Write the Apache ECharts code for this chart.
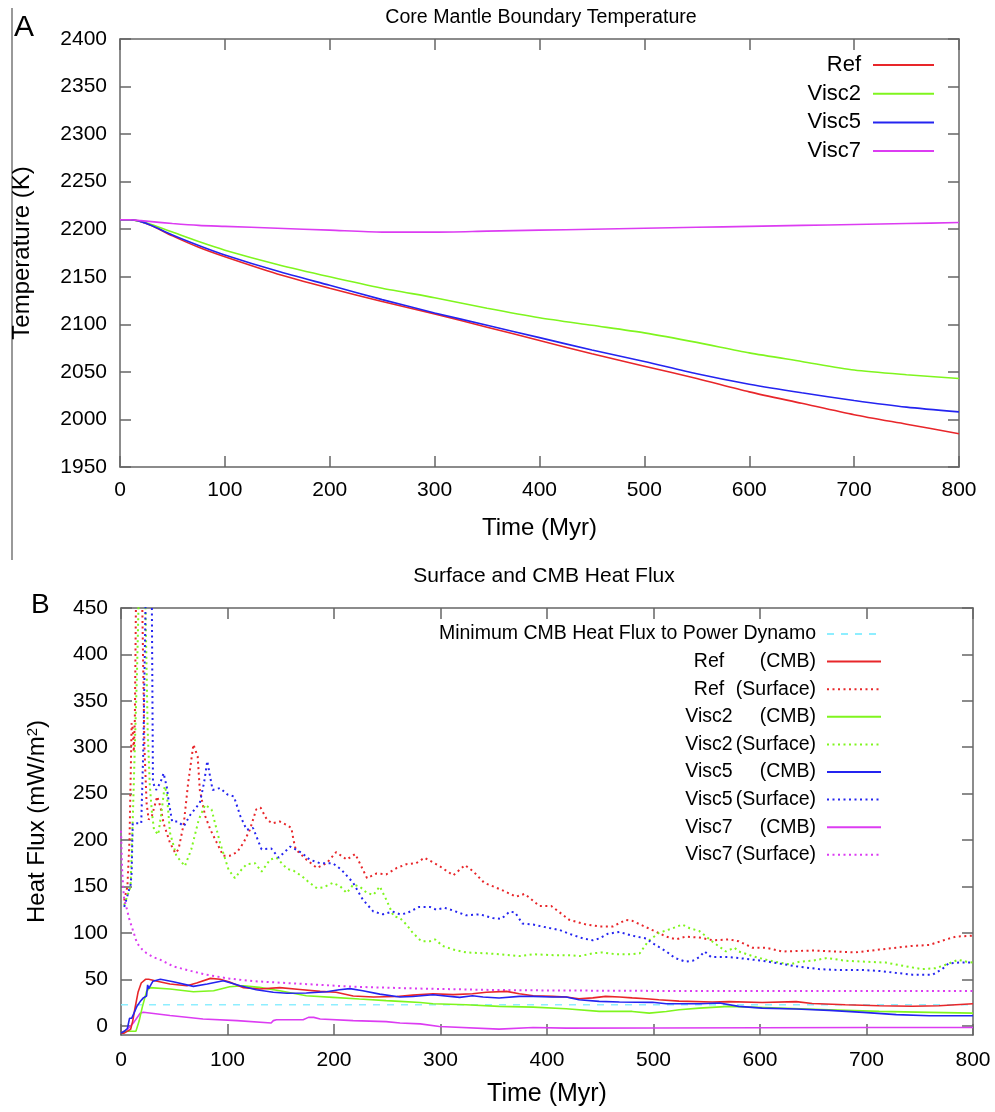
<!DOCTYPE html>
<html>
<head>
<meta charset="utf-8">
<script src="https://cdn.jsdelivr.net/npm/echarts@6/dist/echarts.min.js"></script>
<style>
html,body{margin:0;padding:0;background:#fff;}
#chart{width:995px;height:1112px;}
</style>
</head>
<body>
<div id="chart"></div>
<script>
// ---------- Panel A: Core Mantle Boundary Temperature ----------
const timeTop = [0, 10, 20, 30, 50, 75, 100, 150, 200, 250, 300, 350, 400, 450, 500, 550, 600, 650, 700, 750, 800];
const refTemp   = [2210, 2210, 2208, 2204, 2193, 2181, 2171, 2153, 2138, 2124, 2111, 2097, 2083, 2069, 2056, 2043, 2029, 2017, 2005, 1995, 1985];
const visc2Temp = [2210, 2210, 2208, 2205, 2197, 2187, 2178, 2163, 2150, 2138, 2128, 2117, 2107, 2099, 2091, 2081, 2070, 2061, 2052, 2047, 2043];
const visc5Temp = [2210, 2210, 2208, 2204, 2194, 2183, 2173, 2156, 2141, 2126, 2112, 2099, 2086, 2073, 2061, 2048, 2037, 2028, 2020, 2013, 2008];
const visc7Temp = [2210, 2210, 2209, 2208, 2206, 2204, 2203, 2201, 2199, 2197, 2197, 2198, 2199, 2200, 2201, 2202, 2203, 2204, 2205, 2206, 2207];
const topNames = ['Ref', 'Visc2', 'Visc5', 'Visc7'];
const xTicks = [0, 100, 200, 300, 400, 500, 600, 700, 800];
const tempTicks = [1950, 2000, 2050, 2100, 2150, 2200, 2250, 2300, 2350, 2400];

// ---------- Panel B: Surface and CMB Heat Flux ([time, flux]) ----------
const dynamoName = 'Minimum CMB Heat Flux to Power Dynamo';
const dynamoMin = [[0, 22.5], [800, 22.5]];

const refCMB = [[0,-8],[3,-8],[9,-4],[11,5],[13,18],[16,36],[19,46],[23,50],[26,50],[34,48],[46,45],[62,43],[71,46],[84,51],[93,50],[102,47],[115,41],[130,39.5],[149,41],[168,39],[187,37],[202,36],[218,32],[237,31],[259,31.5],[274,33],[293,34.5],[312,33.5],[330,34.5],[343,36],[362,37],[374,34.5],[387,32.3],[405,31.6],[418,31],[430,29],[443,30],[455,31.6],[468,31],[480,30],[493,29],[505,28],[524,26.5],[555,25.5],[571,26],[602,25],[634,26],[649,24],[680,22.6],[712,21.5],[743,21],[768,21.5],[800,23.6]];
const refSurface = [[3,135],[6,150],[8,200],[10,326],[11,320],[12,295],[13,330],[14,450],[16,650],[18,650],[20,450],[22,300],[24,240],[26,222],[29,226],[34,247],[37,236],[40,218],[46,197],[51,186],[54,190],[59,218],[63,261],[68,303],[72,290],[74,254],[79,226],[84,211],[90,197],[96,183],[102,183],[109,187],[115,197],[121,211],[127,233],[131,235],[137,222],[142,218],[149,220],[156,216],[160,213],[162,200],[164,190],[174,179],[184,170],[193,175],[202,187],[212,179],[220,185],[231,159],[240,164],[249,163],[259,170],[268,174],[277,175],[285,181],[299,172],[312,162],[323,173],[331,166],[341,154],[356,147],[371,139],[379,142],[393,129],[404,129],[421,114],[437,109],[449,107],[462,107],[474,114],[480,113],[499,103],[512,96],[521,93],[530,96],[543,95],[556,92],[571,93],[580,91],[593,84],[606,84],[621,80],[649,81],[671,80],[690,79],[712,82],[743,86],[759,87],[775,93],[784,96],[800,97]];
const visc2CMB = [[0,-8],[4,-6],[14,-6],[17,5],[20,20],[24,37],[27,41],[46,39.5],[68,36.6],[87,37.7],[102,42],[115,43],[130,41.3],[149,37.7],[174,32.3],[199,30.5],[224,28.7],[249,27],[262,26.2],[281,25],[293,23.7],[324,22.6],[355,20.8],[387,20],[418,18.3],[449,15.4],[480,15.4],[496,13.6],[512,15.4],[524,17.2],[543,19],[571,20.8],[618,19],[665,17.2],[712,15.4],[759,14.4],[800,13.6]];
const visc2Surface = [[3,130],[6,140],[9,150],[11,220],[13,301],[15,380],[17,480],[19,650],[21,650],[23,450],[25,320],[27,260],[29,230],[31,211],[35,206],[38,230],[41,258],[43,250],[46,208],[52,183],[60,172],[66,190],[73,222],[79,238],[85,233],[93,197],[101,168],[107,159],[113,168],[118,174],[126,175],[132,166],[140,179],[146,181],[156,169],[162,167],[170,161],[176,155],[184,148],[190,149],[199,154],[206,150],[212,143],[218,152],[224,150],[231,143],[237,141],[243,150],[249,136],[256,118],[262,116],[268,109],[274,100],[282,91],[290,91],[295,93],[302,86],[312,82],[324,79],[343,78],[356,77],[374,75],[387,77],[406,76],[422,76],[431,75],[443,78],[452,79],[465,77],[480,77],[487,78],[495,91],[505,100],[518,105],[527,109],[534,105],[543,102],[556,90],[568,80],[576,84],[580,80],[593,75],[606,71],[618,68],[628,66],[637,69],[649,70],[663,73],[680,70],[699,69],[718,68],[737,64],[752,61],[765,62],[775,66],[786,71],[794,69],[800,68]];
const visc5CMB = [[0,-8],[3,-6],[6,-3],[8,8],[10,8],[12,13],[15,21],[18,26],[21,30],[24,32],[25,44],[26,40],[28,44],[30,48],[37,50],[49,47.4],[68,42.4],[81,45],[96,48.5],[112,43],[127,38.8],[143,36],[156,35],[174,35.2],[193,36.6],[205,38.8],[215,40],[227,37.7],[243,34],[262,31],[274,31.5],[293,33.4],[318,30.5],[330,32.3],[340,31],[355,29.8],[374,31.6],[387,31.6],[405,31],[418,31],[430,28],[449,26.2],[468,25.5],[499,25.2],[512,23.7],[543,23.7],[562,24.4],[580,20.8],[602,19],[634,18],[665,16.5],[697,14.4],[728,11.9],[759,10.8],[800,10.8]];
const visc5Surface = [[3,128],[6,140],[9,152],[10,165],[11,218],[19,218],[21,300],[23,450],[25,650],[27,650],[29,450],[30,262],[33,254],[37,262],[40,272],[43,257],[45,240],[48,220],[53,220],[59,215],[65,227],[74,240],[78,262],[81,285],[86,254],[93,256],[100,249],[106,247],[112,226],[118,211],[124,213],[132,190],[141,191],[148,181],[159,193],[170,186],[177,179],[187,175],[199,175],[207,168],[218,154],[227,136],[237,123],[246,120],[255,123],[262,120],[268,121],[280,128],[290,128],[296,125],[304,127],[312,124],[324,119],[337,120],[349,116],[357,115],[365,123],[370,122],[377,110],[387,109],[399,106],[412,103],[421,99],[434,94],[443,92],[449,94],[457,99],[468,101],[480,97],[493,94],[499,89],[512,80],[520,73],[530,69],[537,70],[543,74],[548,80],[554,74],[571,74],[587,72],[602,70],[618,67],[634,64],[655,61],[674,60],[696,60],[712,59],[727,57],[743,55],[762,55],[771,61],[777,67],[787,68],[800,68]];
const visc7CMB = [[0,-8],[6,-4],[12,3.6],[18,13.4],[21,14.5],[46,11],[77,7.3],[109,5.5],[141,3],[143,5.5],[146,6.5],[171,6.5],[176,9],[181,9],[187,7.3],[218,5.5],[249,4.4],[262,3],[281,2],[299,-0.8],[355,-3.7],[387,-1.9],[418,-2.6],[500,-2.4],[600,-2.2],[700,-2],[800,-2]];
const visc7Surface = [[0,210],[1,170],[2,150],[3,136],[5,128],[8,114],[12,100],[15,89],[20,82],[24,78],[30,74],[37,71],[49,64],[62,60],[80,55],[100,51],[124,48],[155,46],[187,44],[218,42],[249,41],[281,40],[350,38.5],[400,38],[500,37.5],[600,37.5],[700,37.5],[800,37.5]];
const fluxTicks = [0, 50, 100, 150, 200, 250, 300, 350, 400, 450];

const colors = { Ref: '#e8262a', Visc2: '#7ff51e', Visc5: '#2424f0', Visc7: '#dc3cf2', dyn: '#8eeeff' };
const FONT = 'Liberation Sans, Arial, sans-serif';
const AXC = '#666';
const plainNum = v => String(v);

function axisCommon(extra) {
  return Object.assign({
    type: 'value',
    axisLine: { show: true, onZero: false, lineStyle: { color: AXC, width: 1.5 } },
    axisTick: { show: true, inside: true, length: 11, lineStyle: { color: AXC, width: 1.5 } },
    splitLine: { show: false },
    axisLabel: { color: '#000', fontSize: 21, fontFamily: FONT, formatter: plainNum }
  }, extra);
}

const chart = echarts.init(document.getElementById('chart'), null, { renderer: 'canvas' });

const topSeries = [
  ['Ref', refTemp], ['Visc2', visc2Temp], ['Visc5', visc5Temp], ['Visc7', visc7Temp]
].map(([n, arr]) => ({
  name: n, type: 'line', xAxisIndex: 0, yAxisIndex: 0, symbol: 'none', smooth: 0.25,
  lineStyle: { color: colors[n], width: 1.6 }, itemStyle: { color: colors[n] },
  data: timeTop.map((t, i) => [t, arr[i]])
}));

const botDefs = [
  [dynamoName, dynamoMin, colors.dyn, [7, 7], 1.5],
  ['Ref (Surface)', refSurface, colors.Ref, [2, 3.5], 2],
  ['Visc2 (Surface)', visc2Surface, colors.Visc2, [2, 3.5], 2],
  ['Visc5 (Surface)', visc5Surface, colors.Visc5, [2, 3.5], 2],
  ['Visc7 (Surface)', visc7Surface, colors.Visc7, [2, 3.5], 2],
  ['Visc7 (CMB)', visc7CMB, colors.Visc7, 'solid', 1.6],
  ['Visc2 (CMB)', visc2CMB, colors.Visc2, 'solid', 1.6],
  ['Ref (CMB)', refCMB, colors.Ref, 'solid', 1.6],
  ['Visc5 (CMB)', visc5CMB, colors.Visc5, 'solid', 1.6]
];
const botSeries = botDefs.map(([n, arr, c, ty, w]) => ({
  name: n, type: 'line', xAxisIndex: 2, yAxisIndex: 2, symbol: 'none', clip: true,
  lineStyle: { color: c, width: w, type: ty }, itemStyle: { color: c },
  data: arr
}));

const botLegendOrder = [dynamoName, 'Ref (CMB)', 'Ref (Surface)', 'Visc2 (CMB)', 'Visc2 (Surface)', 'Visc5 (CMB)', 'Visc5 (Surface)', 'Visc7 (CMB)', 'Visc7 (Surface)'];

const option = {
  animation: false,
  backgroundColor: '#fff',
  title: [
    { text: 'Core Mantle Boundary Temperature', left: 541, top: 8, padding: 0, textAlign: 'center',
      textStyle: { fontSize: 19.6, fontWeight: 'normal', color: '#000', fontFamily: FONT } },
    { text: 'Surface and CMB Heat Flux', left: 544, top: 566, padding: 0, textAlign: 'center',
      textStyle: { fontSize: 21, fontWeight: 'normal', color: '#000', fontFamily: FONT } }
  ],
  legend: [
    { data: topNames, orient: 'vertical', align: 'right', right: 60, top: 54, itemWidth: 61, itemHeight: 21,
      itemGap: 6.7, selectedMode: false, padding: 0,
      itemStyle: { opacity: 0 },
      textStyle: { fontSize: 22, color: '#000', fontFamily: FONT, padding: [0, 7, 0, 0] } },
    { data: botLegendOrder, orient: 'vertical', align: 'right', right: 113, top: 624, itemWidth: 54, itemHeight: 20,
      itemGap: 7.6, selectedMode: false, padding: 0,
      itemStyle: { opacity: 0 },
      formatter: function (name) {
        if (name === dynamoName) return '{m|' + name + '}';
        const p = name.split(' ');
        return '{n|' + p[0] + '}{s|' + p[1] + '}';
      },
      textStyle: { fontSize: 19.5, color: '#000', fontFamily: FONT, padding: [0, 6, 0, 0],
        rich: {
          m: { fontSize: 19.5, color: '#000', fontFamily: FONT },
          n: { fontSize: 19.5, color: '#000', fontFamily: FONT, width: 50, align: 'center' },
          s: { fontSize: 19.5, color: '#000', fontFamily: FONT, width: 82, align: 'right' }
        } } }
  ],
  grid: [
    { left: 120, right: 36, top: 39, bottom: 645 },
    { left: 121, right: 22, top: 608, bottom: 77 }
  ],
  xAxis: [
    axisCommon({ gridIndex: 0, position: 'bottom', min: 0, max: 800, interval: 100,
      axisLabel: { color: '#000', fontSize: 21, fontFamily: FONT, margin: 13, formatter: plainNum },
      name: 'Time (Myr)', nameLocation: 'middle', nameGap: 49,
      nameTextStyle: { fontSize: 24, color: '#000', fontFamily: FONT } }),
    axisCommon({ gridIndex: 0, position: 'top', min: 0, max: 800, interval: 100, axisLabel: { show: false } }),
    axisCommon({ gridIndex: 1, position: 'bottom', min: 0, max: 800, interval: 100,
      axisLabel: { color: '#000', fontSize: 21, fontFamily: FONT, margin: 15, formatter: plainNum },
      name: 'Time (Myr)', nameLocation: 'middle', nameGap: 47,
      nameTextStyle: { fontSize: 25, color: '#000', fontFamily: FONT } }),
    axisCommon({ gridIndex: 1, position: 'top', min: 0, max: 800, interval: 100, axisLabel: { show: false } })
  ],
  yAxis: [
    axisCommon({ gridIndex: 0, position: 'left', min: 1950, max: 2400, interval: 50,
      axisLabel: { color: '#000', fontSize: 21, fontFamily: FONT, margin: 13, formatter: plainNum },
      name: 'Temperature (K)', nameLocation: 'middle', nameGap: 86,
      nameTextStyle: { fontSize: 24, color: '#000', fontFamily: FONT } }),
    axisCommon({ gridIndex: 0, position: 'right', min: 1950, max: 2400, interval: 50, axisLabel: { show: false } }),
    axisCommon({ gridIndex: 1, position: 'left', min: -10, max: 450,
      axisTick: { show: true, inside: true, length: 11, customValues: fluxTicks, lineStyle: { color: AXC, width: 1.5 } },
      axisLabel: { color: '#000', fontSize: 21, fontFamily: FONT, margin: 13, customValues: fluxTicks, formatter: plainNum },
      name: '{a|Heat Flux (mW/m}{sup|2}{a|)}', nameLocation: 'middle', nameGap: 72,
      nameTextStyle: { fontSize: 24, color: '#000', fontFamily: FONT,
        rich: { a: { fontSize: 24, color: '#000', fontFamily: FONT },
                sup: { fontSize: 15, color: '#000', fontFamily: FONT, verticalAlign: 'top' } } } }),
    axisCommon({ gridIndex: 1, position: 'right', min: -10, max: 450,
      axisTick: { show: true, inside: true, length: 11, customValues: fluxTicks, lineStyle: { color: AXC, width: 1.5 } },
      axisLabel: { show: false } })
  ],
  graphic: [
    { type: 'line', shape: { x1: 12, y1: 8, x2: 12, y2: 560 }, style: { stroke: '#777', lineWidth: 1.5 }, silent: true },
    { type: 'text', left: 14, top: 13, style: { text: 'A', fontSize: 30, fill: '#000', fontFamily: FONT } },
    { type: 'text', left: 31, top: 591, style: { text: 'B', fontSize: 28, fill: '#000', fontFamily: FONT } }
  ],
  series: topSeries.concat(botSeries)
};
chart.setOption(option);
</script>
</body>
</html>
